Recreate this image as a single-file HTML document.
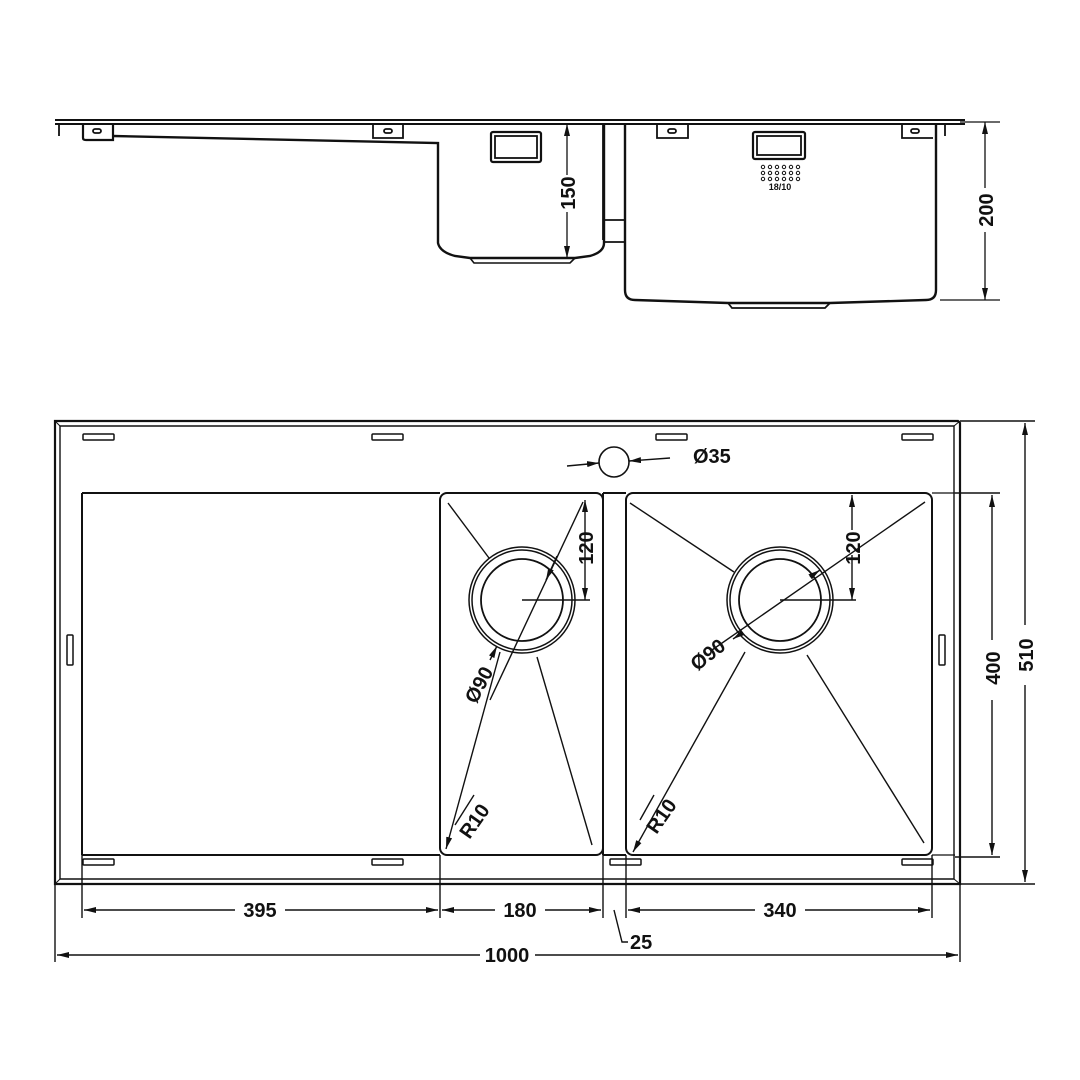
<!DOCTYPE html>
<html><head><meta charset="utf-8"><style>
html,body{margin:0;padding:0;background:#fff}
svg{display:block}
text{font-family:"Liberation Sans",sans-serif;font-weight:bold;font-size:20px;fill:#111}
</style></head><body>
<svg width="1080" height="1080" viewBox="0 0 1080 1080" xmlns="http://www.w3.org/2000/svg">
<defs>
<marker id="a" viewBox="0 0 12 6" refX="12" refY="3" markerWidth="12" markerHeight="6" orient="auto-start-reverse" markerUnits="userSpaceOnUse"><path d="M0,0 L12,3 L0,6 z" fill="#111"/></marker>
</defs>
<g fill="none" stroke="#111" stroke-width="1.8">
<!-- ===== SIDE VIEW ===== -->
<path d="M55,120 L965,120 M55,124 L965,124" stroke-width="2"/>
<path d="M59,124 V136" />
<path d="M83,124 V138 Q83,140 86,140 H113 V124" stroke-width="2.2"/>
<rect x="93" y="129" width="8" height="4" rx="2"/>
<path d="M113,136 L438,143 V243 Q440,252 455,256 L470,258 H575 L590,256 Q604,252 604,243 V124" stroke-width="2.4"/>
<path d="M470,258 L474,263 H570 L575,258" stroke-width="1.6"/>
<path d="M373,124 V138 H403 V124"/>
<rect x="384" y="129" width="8" height="4" rx="2"/>
<rect x="491" y="132" width="50" height="30" rx="2" stroke-width="2.2"/>
<rect x="495" y="136" width="42" height="22"/>
<path d="M603,124 V240 M603,220 H625 M603,242 H625" />
<path d="M625,124 V290 Q625,300 635,300 L728,303 H830 L926,300 Q936,300 936,290 V124" stroke-width="2.4"/>
<path d="M728,303 L732,308 H825 L830,303"/>
<path d="M657,124 V138 H688 V124"/>
<rect x="668" y="129" width="8" height="4" rx="2"/>
<path d="M902,124 V138 H933"/>
<rect x="911" y="129" width="8" height="4" rx="2"/>
<path d="M945,124 V136"/>
<rect x="753" y="132" width="52" height="27" rx="2" stroke-width="2.2"/>
<rect x="757" y="136" width="44" height="19"/>
</g>
<g fill="none" stroke="#111" stroke-width="1">
<circle cx="763" cy="167" r="1.7"/><circle cx="770" cy="167" r="1.7"/><circle cx="777" cy="167" r="1.7"/><circle cx="784" cy="167" r="1.7"/><circle cx="791" cy="167" r="1.7"/><circle cx="798" cy="167" r="1.7"/>
<circle cx="763" cy="173" r="1.7"/><circle cx="770" cy="173" r="1.7"/><circle cx="777" cy="173" r="1.7"/><circle cx="784" cy="173" r="1.7"/><circle cx="791" cy="173" r="1.7"/><circle cx="798" cy="173" r="1.7"/>
<circle cx="763" cy="179" r="1.7"/><circle cx="770" cy="179" r="1.7"/><circle cx="777" cy="179" r="1.7"/><circle cx="784" cy="179" r="1.7"/><circle cx="791" cy="179" r="1.7"/><circle cx="798" cy="179" r="1.7"/>
</g>
<text x="780" y="190" text-anchor="middle" style="font-size:9px">18/10</text>
<!-- side dims -->
<g stroke="#111" stroke-width="1.3" fill="none">
<path d="M567,175 V124" marker-end="url(#a)" />
<path d="M567,212 V258" marker-end="url(#a)"/>
<path d="M960,122 H1000 M940,300 H1000"/>
<path d="M985,188 V122" marker-end="url(#a)"/>
<path d="M985,232 V300" marker-end="url(#a)"/>
</g>
<text transform="translate(575,193) rotate(-90)" text-anchor="middle">150</text>
<text transform="translate(993,210) rotate(-90)" text-anchor="middle">200</text>

<!-- ===== PLAN VIEW ===== -->
<g fill="none" stroke="#111" stroke-width="2">
<path d="M55,421 H958 L960,423 V884 H55 Z" stroke-width="2.2"/>
<path d="M60,426 H954 V879 H60 Z" stroke-width="1.4"/>
<path d="M55,421 L60,426 M960,421 L954,426 M960,884 L954,879 M55,884 L60,879" stroke-width="1"/>
<path d="M82,493 H440 M82,855 H440 M82,493 V855"/>
<path d="M603,493 H626 M603,855 H626"/>
<path d="M932,493 H955 M932,855 H955" stroke-width="1.3"/>
<rect x="440" y="493" width="163" height="362" rx="7"/>
<rect x="626" y="493" width="306" height="362" rx="7"/>
<path d="M603,493 V855"/>
<g stroke-width="1.5">
<rect x="83" y="434" width="31" height="6" rx="1"/>
<rect x="372" y="434" width="31" height="6" rx="1"/>
<rect x="656" y="434" width="31" height="6" rx="1"/>
<rect x="902" y="434" width="31" height="6" rx="1"/>
<rect x="83" y="859" width="31" height="6" rx="1"/>
<rect x="372" y="859" width="31" height="6" rx="1"/>
<rect x="610" y="859" width="31" height="6" rx="1"/>
<rect x="902" y="859" width="31" height="6" rx="1"/>
<rect x="67" y="635" width="6" height="30" rx="1"/>
<rect x="939" y="635" width="6" height="30" rx="1"/>
</g>
<circle cx="614" cy="462" r="15" stroke-width="1.6"/>
<circle cx="522" cy="600" r="53" stroke-width="1.5"/>
<circle cx="522" cy="600" r="50" stroke-width="1.5"/>
<circle cx="522" cy="600" r="41" stroke-width="1.8"/>
<circle cx="780" cy="600" r="53" stroke-width="1.5"/>
<circle cx="780" cy="600" r="50" stroke-width="1.5"/>
<circle cx="780" cy="600" r="41" stroke-width="1.8"/>
</g>
<g fill="none" stroke="#111" stroke-width="1.4">
<path d="M448,503 L489,558"/>
<path d="M537,657 L592,845"/>
<path d="M630,503 L734,572"/>
<path d="M807,655 L924,843"/>
<path d="M500,652 L446,849" marker-end="url(#a)"/>
<path d="M745,652 L633,852" marker-end="url(#a)"/>
<path d="M474,795 L455,825"/>
<path d="M654,795 L640,820"/>
<path d="M583,502 L490,700" />
<path d="M557,556 L546,580" marker-end="url(#a)"/>
<path d="M490,660 L497,646" marker-end="url(#a)"/>
<path d="M925,502 L712,650"/>
<path d="M810,577 L820,570" marker-end="url(#a)"/>
<path d="M742,633 L733,639" marker-end="url(#a)"/>
<path d="M522,600 H590 M780,600 H856"/>
<path d="M585,560 V500" marker-end="url(#a)"/>
<path d="M585,560 V600" marker-end="url(#a)"/>
<path d="M852,530 V495" marker-end="url(#a)"/>
<path d="M852,555 V600" marker-end="url(#a)"/>
<path d="M567,466 L599,463" marker-end="url(#a)"/>
<path d="M670,458 L629,461" marker-end="url(#a)"/>
<path d="M955,493 H1000 M955,857 H1000 M960,421 H1035 M960,884 H1035"/>
<path d="M992,640 V495" marker-end="url(#a)"/>
<path d="M992,700 V855" marker-end="url(#a)"/>
<path d="M1025,625 V423" marker-end="url(#a)"/>
<path d="M1025,685 V882" marker-end="url(#a)"/>
<path d="M82,855 V918 M440,855 V918 M603,855 V918 M626,855 V918 M932,855 V918 M55,884 V962 M960,884 V962"/>
<path d="M235,910 H84" marker-end="url(#a)"/>
<path d="M285,910 H438" marker-end="url(#a)"/>
<path d="M495,910 H442" marker-end="url(#a)"/>
<path d="M545,910 H601" marker-end="url(#a)"/>
<path d="M755,910 H628" marker-end="url(#a)"/>
<path d="M805,910 H930" marker-end="url(#a)"/>
<path d="M480,955 H57" marker-end="url(#a)"/>
<path d="M535,955 H958" marker-end="url(#a)"/>
<path d="M614,910 L622,942 H628"/>
</g>
<text x="693" y="463">Ø35</text>
<text transform="translate(593,548) rotate(-90)" text-anchor="middle">120</text>
<text transform="translate(860,548) rotate(-90)" text-anchor="middle">120</text>
<text transform="translate(485,688) rotate(-62)" text-anchor="middle">Ø90</text>
<text transform="translate(712,660) rotate(-38)" text-anchor="middle">Ø90</text>
<text transform="translate(480,825) rotate(-55)" text-anchor="middle">R10</text>
<text transform="translate(667,820) rotate(-55)" text-anchor="middle">R10</text>
<text transform="translate(1000,668) rotate(-90)" text-anchor="middle">400</text>
<text transform="translate(1033,655) rotate(-90)" text-anchor="middle">510</text>
<text x="260" y="917" text-anchor="middle">395</text>
<text x="520" y="917" text-anchor="middle">180</text>
<text x="780" y="917" text-anchor="middle">340</text>
<text x="630" y="949">25</text>
<text x="507" y="962" text-anchor="middle">1000</text>
</svg>
</body></html>
